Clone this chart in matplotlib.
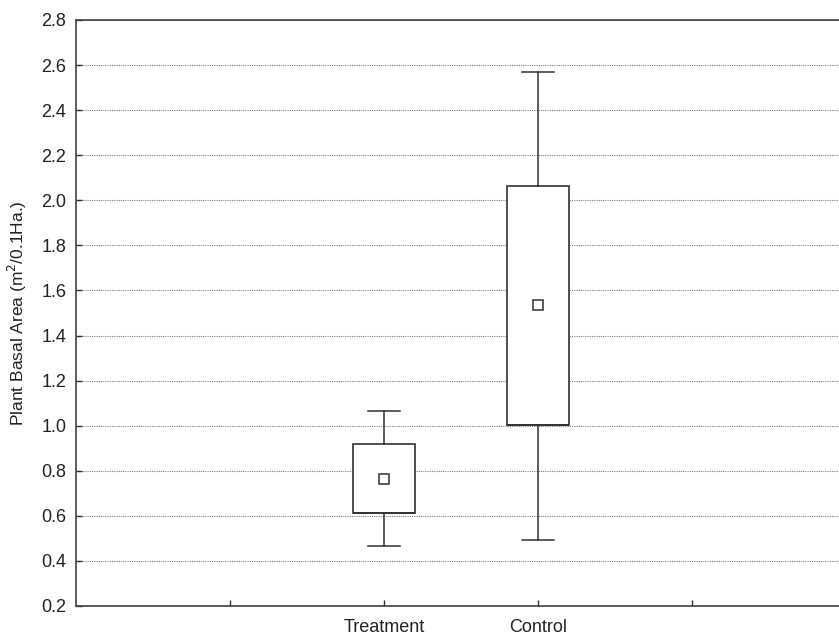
import matplotlib
matplotlib.use("Agg")
import matplotlib.pyplot as plt

plt.rcParams['font.family'] = ['Liberation Sans', 'DejaVu Sans']

categories = ["Treatment", "Control"]
positions = [1, 2]
whisker_low = [0.465, 0.495]
box_low = [0.613, 1.005]
means = [0.765, 1.535]
box_high = [0.918, 2.063]
whisker_high = [1.065, 2.570]

tick_positions = [0, 1, 2, 3]
tick_labels = ["", "Treatment", "Control", ""]
yticks = [0.2, 0.4, 0.6, 0.8, 1.0, 1.2, 1.4, 1.6, 1.8, 2.0, 2.2, 2.4, 2.6, 2.8]

fig = plt.figure(figsize=(8.39, 6.34), dpi=100)
ax = fig.add_axes([76/839, 28/634, 1 - 76/839, (606-20)/634])

stats = []
for i, c in enumerate(categories):
    stats.append(dict(label=c, whislo=whisker_low[i], q1=box_low[i], med=box_low[i],
                      q3=box_high[i], whishi=whisker_high[i], mean=means[i], fliers=[]))

edge = '#303030'
ax.bxp(stats, positions=positions, widths=0.4, showmeans=True, patch_artist=True,
       boxprops=dict(facecolor='white', edgecolor=edge, linewidth=1.2),
       whiskerprops=dict(color=edge, linewidth=1.1),
       capprops=dict(color=edge, linewidth=1.1),
       capwidths=0.21,
       medianprops=dict(color=edge, linewidth=1.2),
       meanprops=dict(marker='s', markerfacecolor='white', markeredgecolor=edge,
                      markersize=7, markeredgewidth=1.1),
       zorder=3)

ax.set_xlim(-1, 3.955)
ax.set_ylim(0.2, 2.8)
ax.set_xticks(tick_positions)
ax.set_xticklabels(tick_labels)
ax.set_yticks(yticks)
ax.set_yticklabels([f"{v:.1f}" for v in yticks])
ax.tick_params(axis='both', direction='in', length=4, width=1, colors=edge,
               labelsize=13, labelcolor='#222222')
ax.tick_params(axis='x', pad=9)
ax.tick_params(axis='y', pad=7)
ax.yaxis.grid(True, linestyle=(0, (1, 1)), color='#808080', linewidth=0.8, zorder=0)
ax.set_axisbelow(True)
for s in ['left', 'bottom', 'top']:
    ax.spines[s].set_color('#404040')
    ax.spines[s].set_linewidth(1.2)
ax.spines['right'].set_visible(False)

ax.set_ylabel("Plant Basal Area (m$^{2}$/0.1Ha.)", fontsize=12.5, color='#222222', labelpad=9)

fig.savefig("out.png", dpi=100)
